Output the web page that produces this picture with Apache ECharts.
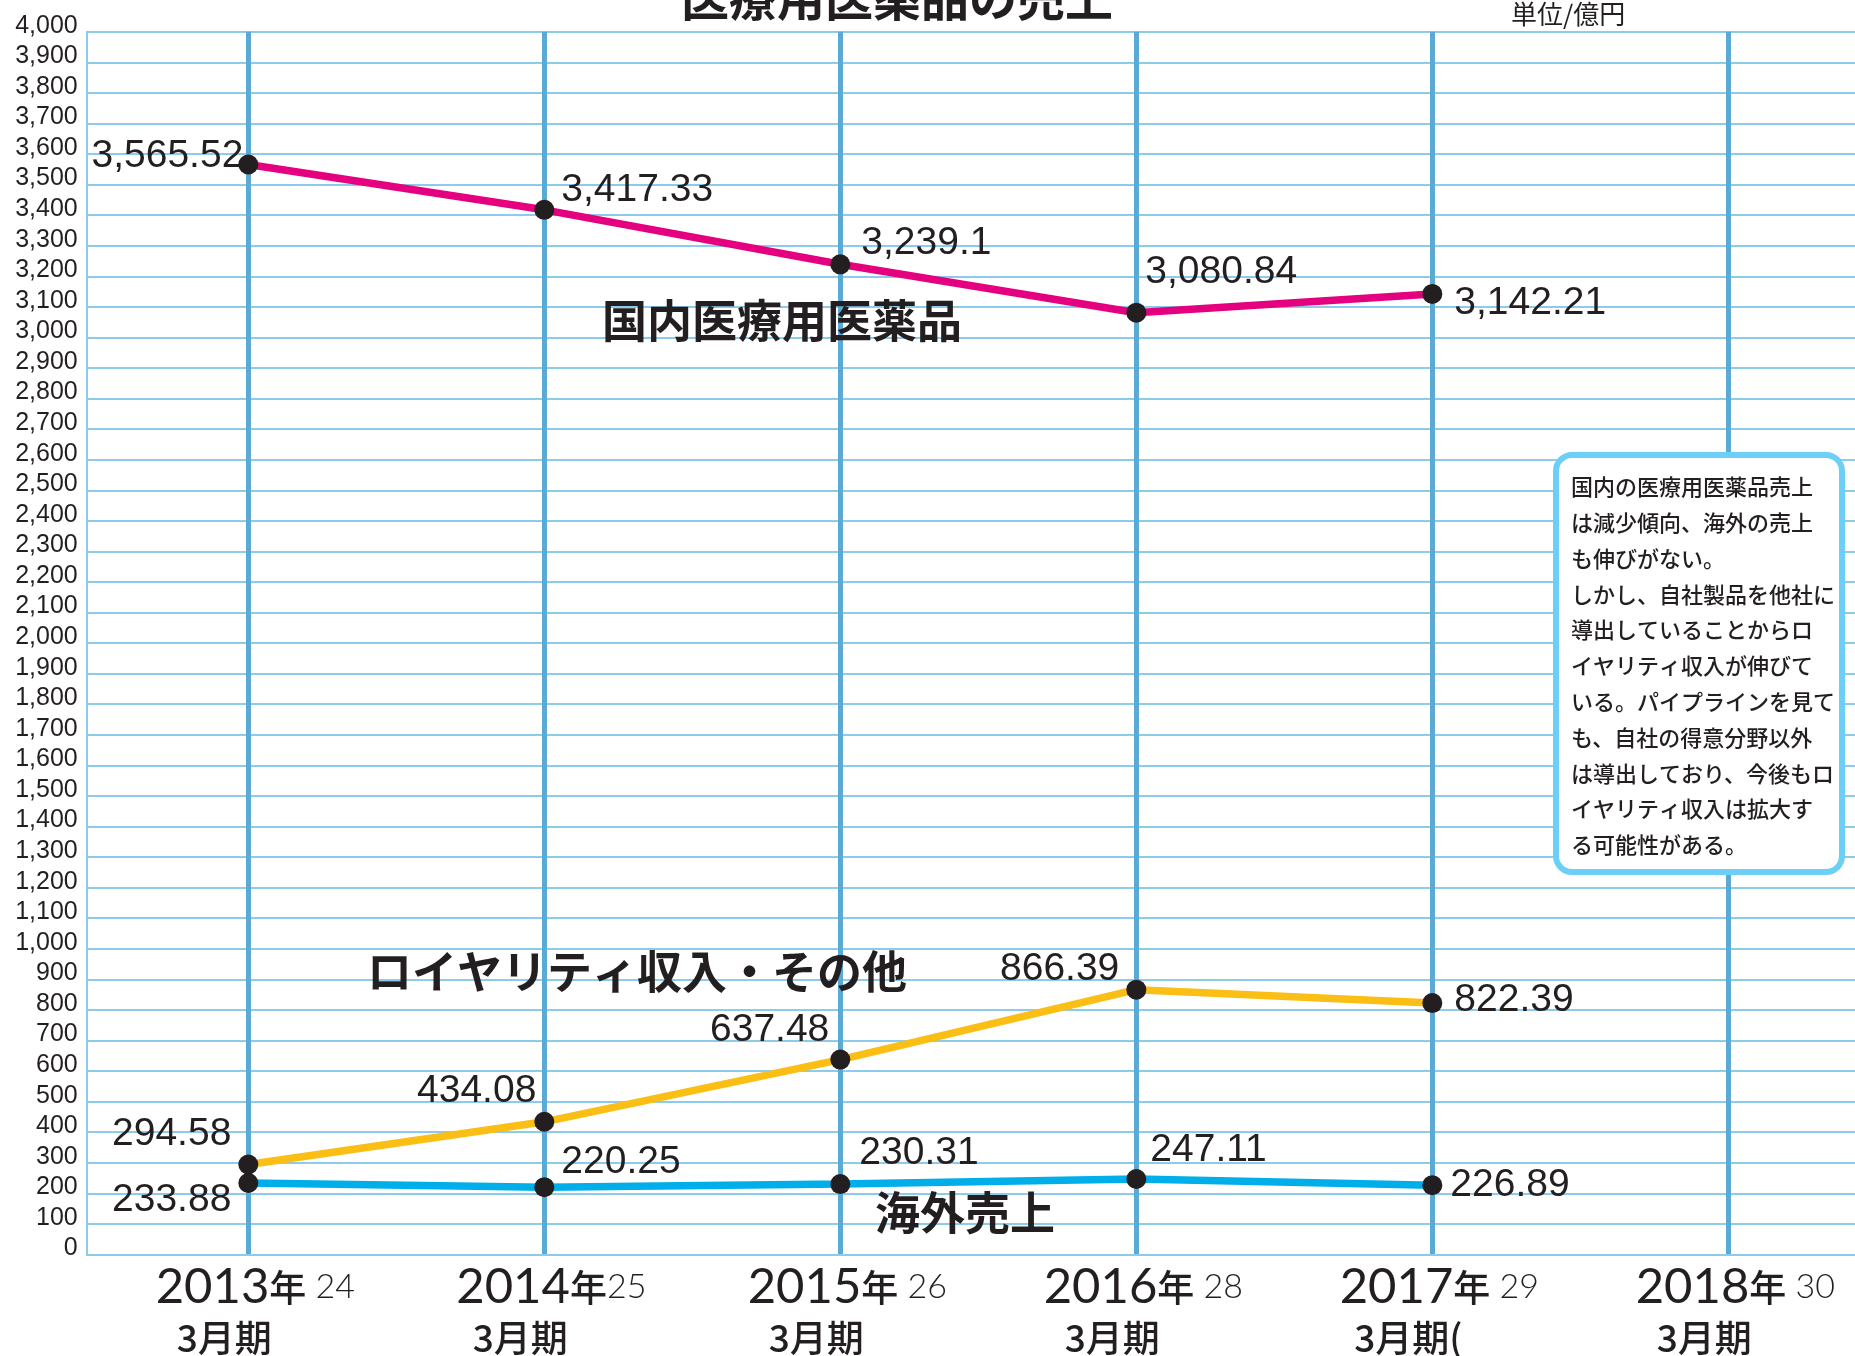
<!DOCTYPE html>
<html>
<head>
<meta charset="utf-8">
<title>医療用医薬品の売上</title>
<script src="https://cdn.jsdelivr.net/npm/echarts@6.0.0/dist/echarts.min.js"></script>
<style>
  html, body { margin: 0; padding: 0; background: #fff; }
  #chart { width: 1855px; height: 1356px; }
</style>
</head>
<body>
<div id="chart"></div>
<script>
  // 決算期
  var years = [2013, 2014, 2015, 2016, 2017];
  var tickYears = [2013, 2014, 2015, 2016, 2017, 2018];
  var heiseiLabels = [' 24', '25', ' 26', ' 28', ' 29', ' 30'];
  var periodLabels = ['3月期', '3月期', '3月期', '3月期', '3月期(', '3月期'];

  // 単位/億円
  var domestic = [3565.52, 3417.33, 3239.1, 3080.84, 3142.21];
  var royalty = [294.58, 434.08, 637.48, 866.39, 822.39];
  var overseas = [233.88, 220.25, 230.31, 247.11, 226.89];

  // ラベル位置 [position, dx, dy]
  var domesticLabelPos = [['left', 10, -8], ['right', 2, -20], ['right', 6, -21], ['right', -6, -40], ['right', 7, 9]];
  var royaltyLabelPos = [['left', -2, -30], ['left', 7, -31], ['left', 4, -29], ['left', -2, -20], ['right', 7, -3]];
  var overseasLabelPos = [['left', -2, 17], ['right', 2, -25], ['right', 4, -31], ['right', -1, -29], ['right', 3, 0]];

  var CJK = '"Noto Sans CJK JP", sans-serif';
  var LAT = '"Liberation Sans", Arial, sans-serif';
  var INK = '#231f20';
  var GRID_LIGHT = '#8ccbec';
  var GRID_DARK = '#5aaad6';

  function fmt(v) {
    return v.toLocaleString('en-US', { maximumFractionDigits: 2 });
  }

  function makeSeries(name, values, color, labelPos) {
    return {
      name: name,
      type: 'line',
      data: values.map(function (v, i) {
        var l = labelPos[i];
        return { value: [years[i], v], label: { position: l[0], offset: [l[1], l[2]] } };
      }),
      symbol: 'circle',
      symbolSize: 20,
      itemStyle: { color: INK },
      lineStyle: { color: color, width: 7.5 },
      label: {
        show: true,
        fontSize: 39,
        fontFamily: LAT,
        color: INK,
        formatter: function (p) { return fmt(p.value[1]); }
      },
      emphasis: { disabled: true },
      z: 3
    };
  }

  var myChart = echarts.init(document.getElementById('chart'));
  var option = {
    animation: false,
    backgroundColor: '#fff',
    grid: { left: 86.7, right: 0, top: 31.7, bottom: 100 },
    xAxis: {
      type: 'value',
      min: 2012.454,
      max: 2018.428,
      axisLine: { show: true, lineStyle: { color: GRID_LIGHT, width: 2 } },
      axisTick: { show: false, customValues: tickYears },
      splitLine: { show: true, lineStyle: { color: GRID_DARK, width: 5 } },
      axisLabel: {
        customValues: tickYears,
        margin: 8,
        formatter: function (v) {
          var i = tickYears.indexOf(v);
          return '{y|' + v + '}{n|年}{h|' + heiseiLabels[i] + '}\n{p|' + periodLabels[i] + '}';
        },
        rich: {
          y: { fontSize: 49, fontFamily: 'Lato, ' + LAT, color: INK, lineHeight: 50, padding: [0, 0, 0, 14] },
          n: { fontSize: 37, fontFamily: CJK, fontWeight: 500, color: INK, lineHeight: 50 },
          h: { fontSize: 34, fontFamily: 'Lato, ' + LAT, fontWeight: 300, color: INK, lineHeight: 50 },
          p: { fontSize: 37, fontFamily: CJK, fontWeight: 500, color: INK, lineHeight: 50, padding: [0, 48, 0, 0] }
        }
      }
    },
    yAxis: {
      type: 'value',
      min: 0,
      max: 4000,
      interval: 100,
      axisLine: { show: true, lineStyle: { color: GRID_LIGHT, width: 2 } },
      axisTick: { show: false },
      axisLabel: {
        fontSize: 25,
        fontFamily: LAT,
        color: INK,
        margin: 9,
        verticalAlign: 'bottom',
        lineHeight: 12,
        formatter: function (v) { return fmt(v); }
      },
      splitLine: { lineStyle: { color: GRID_LIGHT, width: 2 } }
    },
    series: [
      makeSeries('国内医療用医薬品', domestic, '#e4007f', domesticLabelPos),
      makeSeries('ロイヤリティ収入・その他', royalty, '#fabe14', royaltyLabelPos),
      makeSeries('海外売上', overseas, '#00aeea', overseasLabelPos)
    ],
    graphic: [
      { type: 'text', z: 10, style: { text: '医療用医薬品の売上', x: 897, y: -2, align: 'center', verticalAlign: 'middle', font: 'bold 48px ' + CJK, fill: INK } },
      { type: 'text', z: 10, style: { text: '単位/億円', x: 1511, y: 14, align: 'left', verticalAlign: 'middle', font: '26px ' + CJK, fill: INK } },
      { type: 'text', z: 10, style: { text: '国内医療用医薬品', x: 602, y: 321, align: 'left', verticalAlign: 'middle', font: 'bold 45px ' + CJK, fill: INK } },
      { type: 'text', z: 10, style: { text: 'ロイヤリティ収入・その他', x: 367, y: 972, align: 'left', verticalAlign: 'middle', font: 'bold 45px ' + CJK, fill: INK } },
      { type: 'text', z: 10, style: { text: '海外売上', x: 875, y: 1213, align: 'left', verticalAlign: 'middle', font: 'bold 45px ' + CJK, fill: INK } },
      // 注記ボックス
      { type: 'rect', z: 10, shape: { x: 1556, y: 455, width: 286, height: 417, r: 16 }, style: { fill: '#fff', stroke: '#6dcff6', lineWidth: 6 } },
      {
        type: 'text', z: 11,
        style: {
          text: '国内の医療用医薬品売上\nは減少傾向、海外の売上\nも伸びがない。\nしかし、自社製品を他社に\n導出していることからロ\nイヤリティ収入が伸びて\nいる。パイプラインを見て\nも、自社の得意分野以外\nは導出しており、今後もロ\nイヤリティ収入は拡大す\nる可能性がある。',
          x: 1571, y: 469, align: 'left', verticalAlign: 'top',
          font: '500 22px ' + CJK, lineHeight: 35.8, fill: INK
        }
      }
    ]
  };
  myChart.setOption(option);
</script>
</body>
</html>
